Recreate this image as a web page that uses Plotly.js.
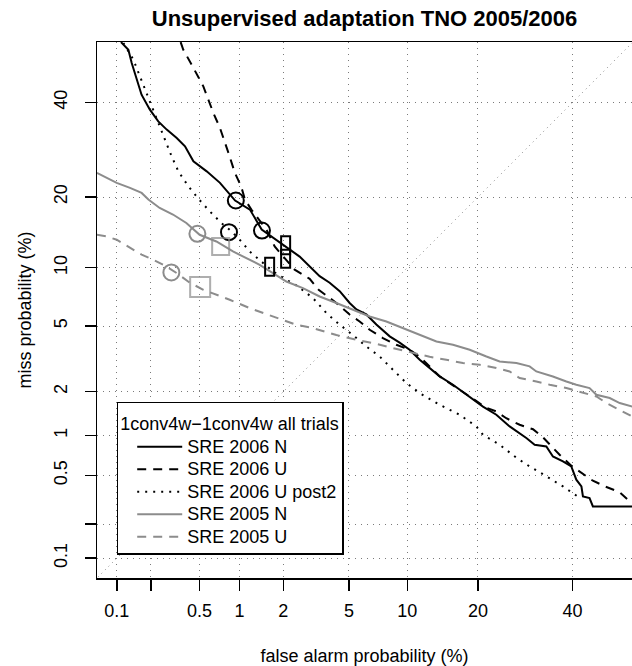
<!DOCTYPE html>
<html>
<head>
<meta charset="utf-8">
<script src="https://cdn.plot.ly/plotly-3.0.1.min.js"></script>
<style>html,body{margin:0;padding:0;background:#fff;}#chart{width:632px;height:666px;}</style>
</head>
<body>
<div id="chart"></div>
<script>
// ---- data (percent) ----
const tickLabels = ["0.1", "", "0.5", "1", "2", "5", "10", "20", "40"];
const tickValues = [0.1, 0.2, 0.5, 1, 2, 5, 10, 20, 40];

const seriesNames = ["SRE 2006 N", "SRE 2006 U", "SRE 2006 U post2", "SRE 2005 N", "SRE 2005 U"];
const legendTitle = "1conv4w\u22121conv4w all trials";

const n06FA = [0.109,0.127,0.136,0.150,0.166,0.196,0.231,0.272,0.329,0.384,0.448,0.569,0.718,0.929,1.186,1.432,2.546,3.381,3.876,4.432,5.042,5.495,6.217,7.017,8.206,9.184,10.25,11.42,12.66,14.0,15.93,18.59,20.88,23.35,25.96,29.44,31.25,33.87,35.38,37.73,39.72,40.93,42.17,42.54,44.16,44.98,56];
const n06Miss = [54.9,53.0,49.7,45.6,41.9,38.3,35.55,33.65,31.78,29.95,26.78,24.77,22.56,19.39,17.88,14.83,11.26,9.10,8.45,7.67,6.66,6.16,5.79,5.10,4.37,4.02,3.65,3.18,2.83,2.51,2.22,1.86,1.59,1.40,1.16,0.958,0.856,0.832,0.700,0.642,0.588,0.464,0.410,0.341,0.330,0.282,0.282];

const u06FA = [0.354,0.372,0.434,0.536,0.640,0.718,0.830,0.926,1.028,1.094,1.214,1.541,1.754,2.368,2.941,3.335,4.240,5.042,5.723,6.474,7.586,8.849,10.25,11.42,14.0,15.93,18.59,21.50,23.35,25.29,28.02,30.89,33.09,36.94,39.72,41.74,44.98,48.16,51.63,54.11,56];
const u06Miss = [54.9,53.0,49.29,43.93,37.52,34.03,28.54,24.45,21.87,19.56,17.88,14.83,12.51,9.778,8.837,7.793,6.661,5.787,5.299,4.763,4.273,3.906,3.65,3.315,2.51,2.203,1.86,1.562,1.474,1.324,1.192,1.108,0.970,0.721,0.596,0.535,0.455,0.408,0.368,0.310,0.294];

const p2FA = [0.1145,0.1408,0.1607,0.184,0.203,0.2314,0.263,0.2988,0.3395,0.4083,0.4884,0.5998,0.7352,0.872,1.031,1.1805,1.3877,1.708,2.093,2.473,3.08,3.712,4.432,5.26,6.217,7.297,8.516,9.895,11.42,14.0,16.95,19.71,20.88,23.99,27.35,30.15,33.87,37.73,41.0];
const p2Miss = [54.7,50.53,46.39,42.31,39.08,35.18,31.41,27.81,24.77,21.92,19.74,17.61,15.79,14.59,13.17,11.886,10.888,9.596,8.738,8.12,7.066,5.887,5.08,4.447,3.818,3.329,2.761,2.277,1.958,1.637,1.4005,1.1595,1.0123,0.856,0.6846,0.588,0.4936,0.4098,0.345];

const n05FA = [0.0654,0.0806,0.0997,0.1313,0.1663,0.1903,0.2374,0.3063,0.3936,0.5018,0.6744,0.8958,1.1805,1.3877,1.708,2.093,2.671,3.381,4.240,5.26,6.474,7.897,9.533,11.42,13.56,15.93,18.59,21.50,23.99,27.35,30.15,31.62,35.38,38.54,40.93,44.16,45.85,49.15,51.63,54.85];
const n05Miss = [24.45,23.50,22.56,21.62,20.72,19.56,18.15,17.09,15.79,14.08,13.17,11.886,10.888,10.318,9.424,8.572,7.951,7.2,6.661,6.14,5.645,5.299,4.869,4.447,4.083,3.906,3.652,3.329,3.106,3.036,2.896,2.694,2.505,2.330,2.219,2.112,1.909,1.8165,1.681,1.587];

const u05FA = [0.0654,0.0806,0.0997,0.1313,0.1663,0.2099,0.2553,0.3287,0.4206,0.536,0.6778,0.8478,1.1805,1.801,2.427,3.08,4.24,5.495,6.7416,8.516,10.624,12.657,14.946,17.48,20.29,23.35,25.955,28.02,31.62,34.64,38.54,42.54,45.85,48.33,51.63,54.11,54.85];
const u05Miss = [14.08,13.85,13.40,12.31,11.49,10.888,10.318,9.424,8.445,7.793,7.347,6.926,6.261,5.59,5.08,4.869,4.447,4.177,3.997,3.737,3.491,3.315,3.179,3.036,2.964,2.830,2.694,2.4475,2.330,2.219,2.112,1.958,1.861,1.681,1.5139,1.4005,1.3554];

// minimum-cost (circles) and actual-cost (boxes) operating points
const minBlackFA = [0.94, 0.838, 1.4385];
const minBlackMiss = [19.4, 14.45, 14.68];
const minGrayFA = [0.4816, 0.2972];
const minGrayMiss = [14.22, 9.49];
const actBlackFA = [2.071, 2.071, 1.622];
const actBlackMiss = [12.67, 11.0, 10.10];
const actGrayFA = [0.7264, 0.5062];
const actGrayMiss = [12.51, 8.047];

// axis limits (percent)
const limLow = 0.1, limHigh = 50;

// ---- probit transform ----
function qnorm(p){
  const a=[-3.969683028665376e+01,2.209460984245205e+02,-2.759285104469687e+02,1.383577518672690e+02,-3.066479806614716e+01,2.506628277459239e+00];
  const b=[-5.447609879822406e+01,1.615858368580409e+02,-1.556989798598866e+02,6.680131188771972e+01,-1.328068155288572e+01];
  const c=[-7.784894002430293e-03,-3.223964580411365e-01,-2.400758277161838e+00,-2.549732539343734e+00,4.374664141464968e+00,2.938163982698783e+00];
  const d=[7.784695709041462e-03,3.224671290700398e-01,2.445134137142996e+00,3.754408661907416e+00];
  const pl=0.02425, ph=1-pl;
  let q, r;
  if(p<pl){ q=Math.sqrt(-2*Math.log(p)); return (((((c[0]*q+c[1])*q+c[2])*q+c[3])*q+c[4])*q+c[5])/((((d[0]*q+d[1])*q+d[2])*q+d[3])*q+1); }
  if(p>ph){ q=Math.sqrt(-2*Math.log(1-p)); return -(((((c[0]*q+c[1])*q+c[2])*q+c[3])*q+c[4])*q+c[5])/((((d[0]*q+d[1])*q+d[2])*q+d[3])*q+1); }
  q=p-0.5; r=q*q;
  return (((((a[0]*r+a[1])*r+a[2])*r+a[3])*r+a[4])*r+a[5])*q/(((((b[0]*r+b[1])*r+b[2])*r+b[3])*r+b[4])*r+1);
}
const pz = arr => arr.map(v => qnorm(v/100));

const W = 632, H = 666;
const M = {l: 97, r: 0, t: 42, b: 88};
const plotW = W - M.l - M.r, plotH = H - M.t - M.b;
const zLo = qnorm(limLow/100), zHi = qnorm(limHigh/100);
const ext = 0.04*(zHi - zLo);
const yRange = [zLo - ext, zHi + ext];
const xRange = [zLo - ext, zLo - ext + (yRange[1]-yRange[0]) * plotW / plotH];

const FONT = '"Liberation Sans", Arial, Helvetica, sans-serif';
const GRAY = '#8c8c8c';
const BLACK = '#000000';
const big = s => '<span style="font-size:18px">' + s + '</span>';

function curve(fa, miss, name, color, dash){
  return {x: pz(fa), y: pz(miss), name: big(name), type: 'scatter', mode: 'lines',
          line: {color: color, width: 2, dash: dash}, hoverinfo: 'skip'};
}

const traces = [
  {x: pz([0.001, 99.999]), y: pz([0.001, 99.999]), type: 'scatter', mode: 'lines',
   line: {color: '#8a8a8a', width: 1, dash: '1px,4px'}, showlegend: false, hoverinfo: 'skip'},
  curve(n06FA, n06Miss, seriesNames[0], BLACK, 'solid'),
  curve(u06FA, u06Miss, seriesNames[1], BLACK, '9px,7px'),
  curve(p2FA, p2Miss, seriesNames[2], BLACK, '2px,6px'),
  curve(n05FA, n05Miss, seriesNames[3], GRAY, 'solid'),
  curve(u05FA, u05Miss, seriesNames[4], GRAY, '9px,7px'),
  {x: pz(minBlackFA), y: pz(minBlackMiss), type: 'scatter', mode: 'markers', showlegend: false, hoverinfo: 'skip',
   marker: {symbol: 'circle-open', size: 16, color: BLACK, line: {width: 2, color: BLACK}}},
  {x: pz(minGrayFA), y: pz(minGrayMiss), type: 'scatter', mode: 'markers', showlegend: false, hoverinfo: 'skip',
   marker: {symbol: 'circle-open', size: 16, color: GRAY, line: {width: 2, color: GRAY}}},
  {x: pz(actGrayFA), y: pz(actGrayMiss), type: 'scatter', mode: 'markers', showlegend: false, hoverinfo: 'skip',
   marker: {symbol: 'square-open', size: [17, 20], color: GRAY, line: {width: 2, color: GRAY}}}
];

// tall boxes for actual-cost points of 2006 systems (pixel-sized around data anchors)
const shapes = actBlackFA.map((fa, i) => ({
  type: 'rect', xref: 'x', yref: 'y',
  xsizemode: 'pixel', ysizemode: 'pixel',
  xanchor: qnorm(fa/100), yanchor: qnorm(actBlackMiss[i]/100),
  x0: -4.5, x1: 4.5, y0: -9, y1: 9,
  line: {color: BLACK, width: 2}, fillcolor: 'rgba(0,0,0,0)'
}));

const tickZ = pz(tickValues);

const axisCommon = {
  type: 'linear', tickvals: tickZ, ticktext: tickLabels,
  ticks: 'outside', ticklen: 11, tickwidth: 1.5, tickcolor: BLACK,
  showline: true, linecolor: BLACK, linewidth: 1.5,
  showgrid: true, gridcolor: '#7a7a7a', griddash: '1px,5px', gridwidth: 1,
  zeroline: false, tickfont: {size: 18, color: BLACK, family: FONT},
  automargin: false, fixedrange: true
};

const layout = {
  width: W, height: H, margin: M,
  paper_bgcolor: '#ffffff', plot_bgcolor: '#ffffff',
  font: {family: FONT, size: 18, color: BLACK},
  title: {text: 'Unsupervised adaptation TNO 2005/2006', font: {size: 22, weight: 'bold', color: BLACK, family: FONT},
          x: 0.5, xref: 'paper', xanchor: 'center', y: 1 - 18/666, yref: 'container', yanchor: 'middle'},
  xaxis: Object.assign({}, axisCommon, {range: xRange, mirror: true, ticklabelstandoff: 5,
          title: {text: 'false alarm probability (%)', font: {size: 18, color: BLACK, family: FONT}, standoff: 29}}),
  yaxis: Object.assign({}, axisCommon, {range: yRange, mirror: false, tickangle: -90, ticklabelstandoff: 10,
          title: {text: 'miss probability (%)', font: {size: 18, color: BLACK, family: FONT}, standoff: 15}}),
  legend: {x: (116.7 - M.l)/plotW, y: (M.t + plotH - 401.7)/plotH, xanchor: 'left', yanchor: 'top',
           bgcolor: '#ffffff', bordercolor: BLACK, borderwidth: 1.5, itemwidth: 45, indentation: 14,
           font: {size: 15, color: BLACK, family: FONT}, tracegroupgap: 0,
           title: {text: big(legendTitle), font: {size: 21, color: BLACK, family: FONT}}},
  shapes: shapes,
  hovermode: false, showlegend: true
};

Plotly.newPlot('chart', traces, layout, {displayModeBar: false, staticPlot: true});
</script>
</body>
</html>
